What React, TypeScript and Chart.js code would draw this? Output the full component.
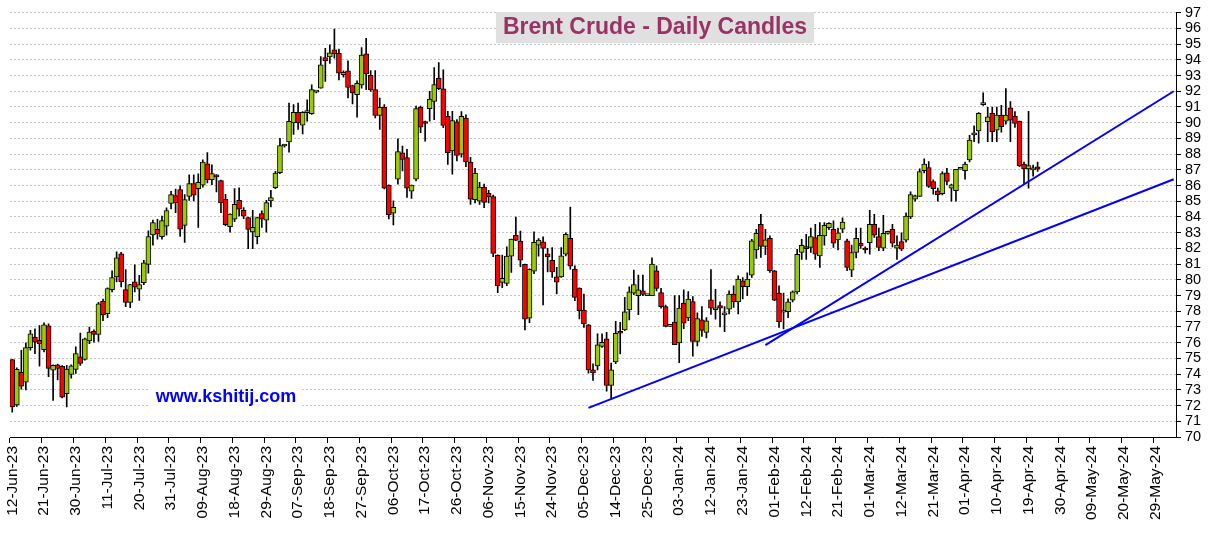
import React, { useEffect, useRef } from 'react';
import { Chart, registerables } from 'chart.js';

Chart.register(...registerables);

// ---------- data ----------
const START_DATE = '2023-06-12';
const CATEGORY_COUNT = 257; // weekdays shown on the axis
const TICK_EVERY = 7;

const opens = [
  74.93, 72.04, 74.12, 73.49, 75.69, 76.36, 76.15, 75.56, 77.07, 74.26,
  74.60, 74.49, 72.75, 73.99, 74.30, 75.10, 74.93, 76.11, 76.72, 76.53,
  78.63, 77.85, 79.38, 80.18, 81.65, 79.38, 78.57, 79.87, 79.40, 79.82,
  80.98, 82.86, 83.22, 82.74, 83.41, 84.86, 85.36, 85.74, 83.47, 85.31,
  86.13, 85.81, 86.02, 87.39, 86.38, 86.60, 86.32, 85.12, 83.38, 83.86,
  85.06, 84.43, 83.97, 83.05, 82.75, 84.22, 83.80, 85.02, 85.86, 86.82,
  88.52, 88.78, 89.99, 90.66, 89.84, 90.64, 90.58, 91.95, 92.20, 94.14,
  94.19, 94.63, 94.42, 93.05, 93.30, 92.37, 91.78, 92.41, 94.38, 93.01,
  92.10, 90.46, 90.98, 86.03, 84.25, 86.41, 88.09, 87.78, 85.65, 86.41,
  90.98, 90.05, 90.90, 91.36, 92.84, 92.16, 90.41, 88.20, 90.05, 88.00,
  90.30, 87.50, 85.10, 85.00, 85.90, 85.50, 85.30, 81.58, 79.84, 79.78,
  81.51, 82.84, 82.46, 80.98, 77.56, 80.56, 82.20, 82.42, 81.66, 81.25,
  80.19, 80.19, 81.63, 82.65, 80.68, 79.48, 78.08, 77.13, 74.27, 74.53,
  75.76, 76.24, 73.28, 74.78, 76.71, 76.81, 78.08, 79.15, 79.00, 79.30,
  79.00, 79.00, 80.58, 79.19, 78.30, 77.04, 77.32, 75.99, 78.52, 77.57,
  78.62, 76.09, 77.46, 76.66, 78.73, 78.10, 78.37, 77.77, 78.14, 79.10,
  78.60, 79.94, 79.56, 80.30, 81.91, 83.53, 82.12, 82.65, 80.58, 79.16,
  77.95, 77.97, 78.71, 79.24, 81.74, 82.06, 82.06, 82.69, 81.53, 82.80,
  83.32, 83.22, 82.54, 83.22, 82.48, 80.62, 81.74, 82.33, 81.92, 82.37,
  83.53, 82.75, 82.01, 82.96, 83.22, 82.01, 82.44, 82.52, 84.00, 85.14,
  85.31, 86.94, 87.15, 86.26, 85.67, 85.48, 86.81, 85.84, 85.67, 87.04,
  86.94, 87.63, 89.22, 89.47, 91.15, 90.06, 90.59, 89.52, 90.48, 90.10,
  90.95, 90.42, 90.10, 87.36, 87.06, 87.00, 87.20,
];

const highs = [
  74.95, 74.40, 75.52, 76.00, 76.78, 76.88, 77.09, 77.26, 77.20, 74.60,
  74.64, 74.55, 74.56, 74.60, 75.73, 76.61, 76.30, 77.00, 76.82, 78.57,
  78.77, 79.50, 80.58, 81.79, 81.75, 80.66, 79.72, 80.96, 80.29, 81.25,
  83.12, 83.81, 83.85, 84.06, 84.58, 85.63, 85.78, 85.99, 85.42, 86.69,
  86.69, 86.74, 87.64, 88.10, 87.32, 86.70, 86.35, 85.44, 84.20, 85.81,
  85.85, 84.60, 84.00, 84.43, 84.00, 84.39, 85.06, 85.69, 86.90, 89.00,
  88.60, 91.25, 91.15, 91.25, 90.70, 91.46, 92.41, 92.00, 94.21, 94.73,
  94.95, 95.96, 94.69, 93.30, 93.93, 92.40, 92.67, 94.78, 95.37, 93.32,
  93.32, 91.57, 91.15, 86.05, 85.03, 88.98, 88.51, 88.30, 86.03, 91.05,
  91.05, 90.10, 92.00, 93.51, 93.83, 93.37, 90.73, 90.73, 90.20, 90.70,
  90.50, 87.80, 87.10, 86.20, 86.10, 85.70, 85.40, 81.60, 81.58, 82.10,
  82.60, 84.00, 83.10, 81.00, 80.70, 83.05, 82.63, 82.74, 82.00, 82.05,
  80.79, 82.05, 83.00, 84.63, 80.89, 79.50, 79.10, 77.15, 74.66, 76.56,
  76.56, 76.66, 74.70, 77.36, 77.30, 78.88, 79.56, 80.62, 80.30, 80.30,
  79.00, 81.40, 80.90, 79.46, 78.40, 77.04, 79.00, 79.00, 79.36, 79.25,
  78.94, 77.90, 78.30, 77.60, 80.66, 79.40, 78.60, 78.30, 79.30, 79.62,
  80.26, 80.15, 80.45, 82.58, 83.22, 84.17, 83.22, 82.80, 80.60, 79.62,
  79.16, 78.80, 79.30, 81.95, 82.58, 82.90, 83.30, 83.53, 83.64, 83.64,
  83.64, 83.75, 83.30, 83.95, 82.60, 82.22, 83.30, 83.30, 82.10, 84.42,
  84.17, 83.30, 84.10, 83.10, 83.53, 82.80, 83.00, 84.27, 85.60, 85.40,
  87.06, 87.70, 87.53, 86.37, 85.84, 86.89, 87.10, 86.10, 87.04, 87.04,
  87.50, 89.20, 89.80, 90.64, 91.90, 90.98, 91.00, 91.00, 91.10, 92.17,
  91.34, 90.70, 90.10, 87.50, 90.73, 87.30, 87.50,
];

const lows = [
  71.58, 71.95, 73.05, 73.00, 75.52, 75.31, 74.51, 75.41, 73.84, 72.33,
  73.63, 72.48, 71.91, 73.74, 74.05, 74.56, 74.89, 75.94, 76.04, 76.09,
  77.41, 77.60, 79.24, 79.87, 79.55, 78.29, 78.23, 79.24, 78.69, 79.70,
  80.43, 82.21, 82.59, 82.59, 82.84, 84.52, 84.27, 82.76, 82.38, 85.06,
  85.02, 83.34, 85.90, 86.17, 86.06, 85.60, 84.28, 83.44, 83.03, 83.70,
  84.07, 83.90, 81.98, 81.98, 82.29, 83.34, 83.03, 84.64, 85.80, 86.75,
  88.45, 88.13, 89.25, 89.57, 89.29, 90.09, 90.52, 91.90, 92.20, 92.62,
  93.78, 94.10, 92.73, 92.90, 91.57, 91.19, 90.35, 92.20, 92.10, 91.99,
  90.31, 89.57, 85.78, 83.87, 83.49, 86.09, 86.93, 85.24, 85.18, 86.30,
  89.36, 88.83, 90.10, 90.20, 92.10, 89.68, 87.35, 86.72, 87.57, 87.80,
  87.20, 84.80, 84.90, 84.80, 84.60, 84.90, 81.47, 79.19, 79.50, 79.63,
  80.48, 82.50, 80.84, 76.82, 77.28, 80.40, 81.51, 78.40, 80.50, 80.15,
  79.10, 80.15, 81.53, 80.68, 78.67, 77.51, 76.98, 74.06, 73.60, 74.27,
  75.70, 72.92, 72.37, 74.66, 75.29, 76.77, 77.45, 79.05, 77.78, 79.00,
  79.00, 79.00, 79.30, 78.20, 77.00, 77.04, 75.88, 74.73, 76.90, 77.40,
  75.15, 75.80, 76.40, 76.30, 77.80, 77.50, 77.00, 76.70, 77.83, 78.25,
  77.83, 78.78, 79.00, 80.15, 81.36, 81.42, 81.60, 80.47, 78.67, 76.98,
  76.87, 77.60, 78.60, 79.10, 81.30, 81.30, 81.74, 81.30, 80.79, 82.20,
  83.20, 82.06, 81.90, 83.00, 80.58, 80.20, 81.40, 82.00, 81.70, 81.63,
  82.70, 81.85, 81.85, 82.90, 82.10, 81.30, 81.85, 82.40, 83.90, 85.00,
  85.31, 86.80, 85.88, 85.46, 85.00, 85.40, 86.05, 85.00, 85.00, 87.04,
  86.40, 87.50, 88.80, 88.69, 91.10, 88.80, 88.80, 88.80, 89.40, 89.90,
  88.80, 89.70, 87.20, 86.10, 85.84, 86.60, 86.90,
];

const closes = [
  71.91, 74.30, 73.23, 75.69, 76.57, 76.04, 75.94, 77.13, 74.37, 74.56,
  74.37, 72.54, 74.32, 74.53, 75.31, 74.68, 76.25, 76.67, 76.53, 78.47,
  77.77, 79.45, 80.14, 81.40, 79.89, 78.57, 79.70, 79.53, 79.70, 81.08,
  82.76, 83.64, 82.93, 83.77, 84.41, 85.42, 84.90, 83.22, 85.11, 86.13,
  85.39, 86.21, 87.49, 86.38, 86.76, 86.55, 84.89, 83.51, 84.18, 84.81,
  84.49, 84.05, 83.21, 83.34, 83.97, 83.86, 84.91, 85.23, 86.80, 88.55,
  88.55, 90.09, 90.66, 89.99, 90.66, 90.70, 92.10, 91.98, 93.68, 93.93,
  94.44, 94.38, 93.15, 93.20, 92.24, 91.89, 92.50, 94.31, 93.11, 92.10,
  90.46, 90.98, 85.84, 84.13, 84.61, 88.16, 87.67, 85.84, 86.03, 90.90,
  89.72, 89.95, 91.51, 92.42, 92.16, 89.82, 88.09, 90.14, 87.92, 90.40,
  87.50, 85.13, 86.80, 85.90, 84.92, 85.27, 81.68, 79.61, 80.10, 81.51,
  82.59, 82.51, 81.26, 77.50, 80.67, 82.38, 82.53, 82.00, 81.46, 80.51,
  79.86, 81.53, 82.90, 80.87, 78.88, 78.04, 77.19, 74.27, 74.08, 75.86,
  76.03, 73.28, 74.27, 76.60, 76.60, 77.97, 79.24, 79.70, 79.36, 79.08,
  79.00, 81.00, 79.46, 78.30, 77.04, 77.04, 75.88, 78.20, 77.25, 78.77,
  76.09, 77.53, 76.79, 77.40, 78.20, 78.10, 78.20, 77.87, 79.10, 78.60,
  80.05, 79.56, 80.05, 82.48, 82.96, 82.12, 82.54, 80.58, 78.71, 77.34,
  78.04, 78.60, 79.24, 81.63, 82.20, 81.99, 82.75, 81.63, 82.84, 83.47,
  83.60, 82.33, 83.00, 83.68, 80.79, 81.74, 82.65, 82.16, 81.90, 83.53,
  82.84, 82.06, 82.96, 83.00, 82.33, 82.22, 81.95, 84.06, 85.42, 85.35,
  86.89, 87.36, 85.95, 85.80, 85.42, 86.77, 86.26, 86.05, 87.04, 87.04,
  87.36, 88.90, 89.36, 90.59, 91.17, 90.38, 89.43, 90.48, 89.74, 90.48,
  90.16, 89.95, 87.27, 87.06, 87.27, 87.00, 87.04,
];

// trend lines: [date label, price]
const trendLineA: [string, number][] = [['06-Dec-23', 71.85], ['04-Jun-24', 86.4]];
const trendLineB: [string, number][] = [['30-Jan-24', 75.85], ['04-Jun-24', 92.0]];

const Y_MIN = 70;
const Y_MAX = 97;
const TITLE = 'Brent Crude - Daily Candles';
const WATERMARK = 'www.kshitij.com';

// ---------- helpers ----------
const MONTHS = ['Jan', 'Feb', 'Mar', 'Apr', 'May', 'Jun', 'Jul', 'Aug', 'Sep', 'Oct', 'Nov', 'Dec'];
function buildWeekdayLabels(start: string, count: number): string[] {
  const out: string[] = [];
  const d = new Date(start + 'T00:00:00Z');
  while (out.length < count) {
    const wd = d.getUTCDay();
    if (wd !== 0 && wd !== 6) {
      const dd = String(d.getUTCDate()).padStart(2, '0');
      const yy = String(d.getUTCFullYear() % 100).padStart(2, '0');
      out.push(`${dd}-${MONTHS[d.getUTCMonth()]}-${yy}`);
    }
    d.setUTCDate(d.getUTCDate() + 1);
  }
  return out;
}

const FONT = '"Liberation Sans", Arial, Helvetica, sans-serif';
const GREEN = '#99cc00';
const RED = '#ff0000';

const overlayPlugin = {
  id: 'overlayText',
  beforeDatasetsDraw(chart: any) {
    const { ctx } = chart;
    ctx.save();
    // title
    ctx.font = `bold 23px ${FONT}`;
    const tw = ctx.measureText(TITLE).width;
    const tx = 655;
    const ty = 28;
    ctx.fillStyle = '#e0e0e0';
    ctx.fillRect(tx - tw / 2 - 7, ty - 16, tw + 14, 31);
    ctx.fillStyle = '#993366';
    ctx.textAlign = 'center';
    ctx.textBaseline = 'middle';
    ctx.fillText(TITLE, tx, ty);
    // watermark
    ctx.font = `bold 18px ${FONT}`;
    const ww = ctx.measureText(WATERMARK).width;
    const wx = 226;
    const wy = 397;
    ctx.fillStyle = '#ffffff';
    ctx.fillRect(wx - ww / 2 - 6, wy - 12, ww + 12, 24);
    ctx.fillStyle = '#0000ff';
    ctx.fillText(WATERMARK, wx, wy);
    ctx.restore();
  },
};

export default function App() {
  const canvasRef = useRef<HTMLCanvasElement | null>(null);

  useEffect(() => {
    const canvas = canvasRef.current;
    if (!canvas) return;
    const labels = buildWeekdayLabels(START_DATE, CATEGORY_COUNT);

    const bodies = opens.map((o, i) => [o, closes[i]]);
    const wicks = lows.map((l, i) => [l, highs[i]]);
    const bodyColors = opens.map((o, i) => (closes[i] >= o ? GREEN : RED));

    const chart = new Chart(canvas, {
      type: 'bar',
      data: {
        labels,
        datasets: [
          {
            type: 'line',
            label: 'Trend A',
            data: trendLineA.map(([x, y]) => ({ x, y })) as any,
            borderColor: '#0000ff',
            borderWidth: 2,
            pointRadius: 0,
            fill: false,
            order: 0,
          } as any,
          {
            type: 'line',
            label: 'Trend B',
            data: trendLineB.map(([x, y]) => ({ x, y })) as any,
            borderColor: '#0000ff',
            borderWidth: 2,
            pointRadius: 0,
            fill: false,
            order: 0,
          } as any,
          {
            label: 'Body',
            data: bodies as any,
            backgroundColor: bodyColors,
            borderColor: '#000000',
            borderWidth: 1,
            borderSkipped: false,
            barThickness: 5,
            minBarLength: 2,
            grouped: false,
            order: 1,
          } as any,
          {
            label: 'Wick',
            data: wicks as any,
            backgroundColor: '#000000',
            borderWidth: 0,
            barThickness: 1,
            grouped: false,
            order: 2,
          } as any,
        ],
      },
      options: {
        animation: false,
        responsive: true,
        maintainAspectRatio: false,
        layout: { padding: { left: 10, top: 10, right: 0, bottom: 0 } },
        plugins: {
          legend: { display: false },
          tooltip: { enabled: false },
          title: { display: false },
        },
        scales: {
          x: {
            type: 'category',
            offset: true,
            grid: {
              offset: true,
              display: true,
              drawOnChartArea: false,
              drawTicks: true,
              tickLength: 6,
              color: (c: any) => (c.index % TICK_EVERY === 0 ? '#000000' : 'rgba(0,0,0,0)'),
              tickColor: (c: any) => (c.index % TICK_EVERY === 0 ? '#000000' : 'rgba(0,0,0,0)'),
            },
            border: { display: true, color: '#000000', width: 1 },
            ticks: {
              autoSkip: false,
              maxRotation: 90,
              minRotation: 90,
              padding: 3,
              color: '#000000',
              font: { family: FONT, size: 15.5 },
              callback: (_v: any, i: number) => (i % TICK_EVERY === 0 ? labels[i] : ''),
            },
            afterFit: (scale: any) => {
              scale.height = 99;
            },
          },
          y: {
            position: 'right',
            min: Y_MIN,
            max: Y_MAX,
            grid: {
              color: '#c4c4c4',
              drawTicks: true,
              tickLength: 5,
              tickColor: '#000000',
            },
            border: { display: true, color: '#000000', width: 1, dash: [2, 2] },
            ticks: {
              stepSize: 1,
              autoSkip: false,
              padding: 4,
              color: '#000000',
              font: { family: FONT, size: 14.5 },
            },
            afterFit: (scale: any) => {
              scale.width = 36;
            },
          },
        },
      },
      plugins: [overlayPlugin],
    } as any);

    return () => chart.destroy();
  }, []);

  return (
    <div style={{ position: 'fixed', left: 0, top: 0, width: 1212, height: 536, background: '#fff' }}>
      <canvas ref={canvasRef} />
    </div>
  );
}
